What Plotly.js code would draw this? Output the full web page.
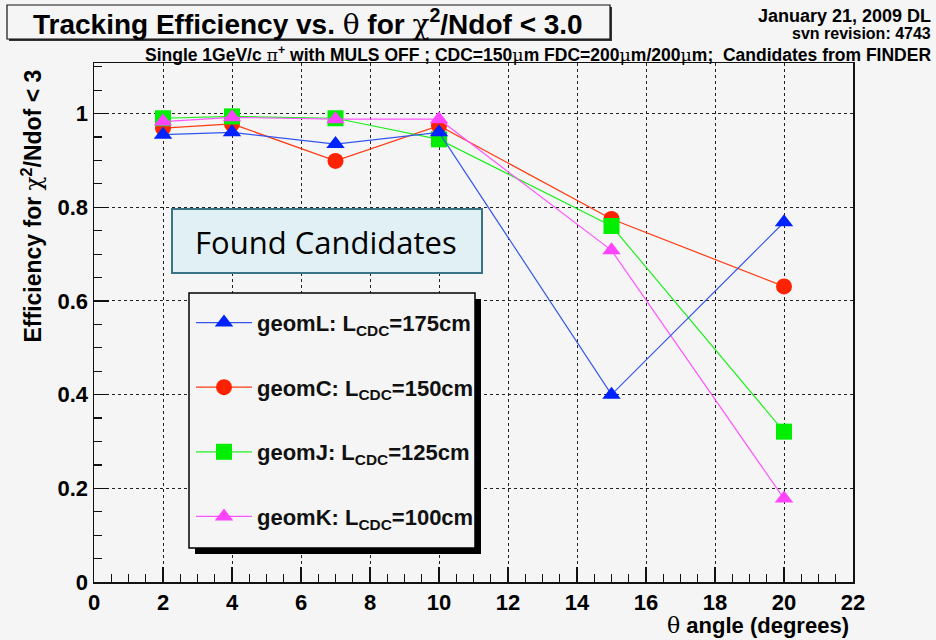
<!DOCTYPE html>
<html>
<head>
<meta charset="utf-8">
<script src="https://cdn.plot.ly/plotly-3.0.1.min.js"></script>
<style>html,body{margin:0;padding:0;background:#f5f5f5;}#chart{width:936px;height:640px;}</style>
</head>
<body>
<div id="chart"></div>
<script>
// ---- data ----
const theta = [2, 4, 7, 10, 15, 20];
const effL = [0.955, 0.960, 0.935, 0.960, 0.400, 0.768];   // geomL 175cm
const effC = [0.969, 0.978, 0.899, 0.974, 0.775, 0.631];   // geomC 150cm
const effJ = [0.990, 0.994, 0.990, 0.945, 0.760, 0.321];   // geomJ 125cm
const effK = [0.983, 0.992, 0.988, 0.988, 0.708, 0.178];   // geomK 100cm
const seriesNames = [
  "geomL: L<sub>CDC</sub>=175cm",
  "geomC: L<sub>CDC</sub>=150cm",
  "geomJ: L<sub>CDC</sub>=125cm",
  "geomK: L<sub>CDC</sub>=100cm"
];
const xTickVals = [0,2,4,6,8,10,12,14,16,18,20,22];

// ---- layout geometry helpers (pixel -> paper) ----
const W = 936, H = 640;
const M = {l: 94, r: 83, t: 63, b: 58};
const PW = W - M.l - M.r, PH = H - M.t - M.b;
const px = x => (x - M.l) / PW;
const py = y => (H - M.b - y) / PH;

const F = "Liberation Sans, Arial, sans-serif";
const SYM = "<span style=\"font-weight:normal;font-family:'DejaVu Serif'\">";

function tr(x, y, name, color, lineColor, symbol, size, rank) {
  return {
    x: x, y: y, name: name, type: 'scatter', mode: 'lines+markers',
    line: {color: lineColor, width: 1.2},
    marker: {color: color, symbol: symbol, size: size, line: {width: 0}},
    legendgroup: 'g' + rank, legendrank: rank, cliponaxis: false
  };
}

const data = [
  tr(theta, effC, seriesNames[1], '#ff2200', '#ff3a10', 'circle', 16, 2),
  tr(theta, effJ, seriesNames[2], '#00ee00', '#22ee22', 'square', 16, 3),
  tr(theta, effK, seriesNames[3], '#ff44ff', '#ff55ff', 'triangle-up', 16, 4),
  tr(theta, effL, seriesNames[0], '#0022ff', '#3355ee', 'triangle-up', 16, 1)
];

const axisCommon = {
  showline: true, linecolor: '#111', linewidth: 1.5, mirror: true,
  ticks: 'inside', ticklen: 15, tickcolor: '#111', tickwidth: 1.2,
  showgrid: true, gridcolor: '#222', gridwidth: 1, griddash: 'dot',
  zeroline: false,
  tickfont: {family: F, size: 22, color: '#000', weight: 'bold'},
  fixedrange: true
};

const layout = {
  width: W, height: H,
  margin: M,
  paper_bgcolor: '#f5f5f5', plot_bgcolor: '#f5f5f5',
  font: {family: F, color: '#000'},
  xaxis: Object.assign({}, axisCommon, {
    range: [0, 22], tickvals: xTickVals,
    minor: {dtick: 0.5, ticks: 'inside', ticklen: 8, tickcolor: '#111', showgrid: false}
  }),
  yaxis: Object.assign({}, axisCommon, {
    range: [0, 1.108], dtick: 0.2, tick0: 0,
    minor: {dtick: 0.05, ticks: 'inside', ticklen: 8, tickcolor: '#111', showgrid: false}
  }),
  legend: {
    x: px(191), y: py(294), xanchor: 'left', yanchor: 'top',
    bgcolor: 'rgba(0,0,0,0)', borderwidth: 0,
    font: {family: F, size: 22, color: '#111', weight: 'bold'},
    title: {text: ' ', font: {size: 6}},
    traceorder: 'grouped', tracegroupgap: 33, itemwidth: 56
  },
  shapes: [
    // title box shadow + box
    {type: 'rect', xref: 'paper', yref: 'paper', x0: px(9), x1: px(612), y0: py(41), y1: py(7),
     fillcolor: '#333', line: {width: 0}, layer: 'above'},
    {type: 'rect', xref: 'paper', yref: 'paper', x0: px(7), x1: px(610), y0: py(39), y1: py(5),
     fillcolor: '#f5f5f5', line: {color: '#111', width: 1.2}, layer: 'above'},
    // Found Candidates box
    {type: 'rect', xref: 'paper', yref: 'paper', x0: px(172), x1: px(482), y0: py(273), y1: py(209),
     fillcolor: '#e1f0f5', line: {color: '#3a7585', width: 2}, layer: 'above'},
    // legend shadow + legend frame
    {type: 'rect', xref: 'paper', yref: 'paper', x0: px(195), x1: px(481), y0: py(554), y1: py(299),
     fillcolor: '#000', line: {width: 0}, layer: 'above'},
    {type: 'rect', xref: 'paper', yref: 'paper', x0: px(189), x1: px(475), y0: py(548), y1: py(293),
     fillcolor: '#f5f5f5', line: {color: '#000', width: 1.5}, layer: 'above'}
  ],
  annotations: [
    {text: 'Tracking Efficiency vs. ' + SYM + 'θ</span> for ' + SYM + 'χ</span><sup>2</sup>/Ndof &lt; 3.0',
     xref: 'paper', yref: 'paper', x: px(308), y: py(23), xanchor: 'center', yanchor: 'middle',
     showarrow: false, font: {family: F, size: 28, color: '#000', weight: 'bold'}},
    {text: 'January 21, 2009 DL', xref: 'paper', yref: 'paper', x: px(933), y: py(16),
     xanchor: 'right', yanchor: 'middle', showarrow: false,
     font: {family: F, size: 18, color: '#000', weight: 'bold'}},
    {text: 'svn revision: 4743', xref: 'paper', yref: 'paper', x: px(933), y: py(34),
     xanchor: 'right', yanchor: 'middle', showarrow: false,
     font: {family: F, size: 16, color: '#000', weight: 'bold'}},
    {text: 'Single 1GeV/c ' + SYM + 'π</span><sup>+</sup> with MULS OFF ; CDC=150' + SYM + 'μ</span>m FDC=200' + SYM + 'μ</span>m/200' + SYM + 'μ</span>m;  Candidates from FINDER',
     xref: 'paper', yref: 'paper', x: px(933), y: py(54),
     xanchor: 'right', yanchor: 'middle', showarrow: false,
     font: {family: F, size: 17.5, color: '#000', weight: 'bold'}},
    {text: SYM + 'θ</span> angle (degrees)', xref: 'paper', yref: 'paper', x: px(851), y: py(626),
     xanchor: 'right', yanchor: 'middle', showarrow: false,
     font: {family: F, size: 22, color: '#000', weight: 'bold'}},
    {text: 'Efficiency for ' + SYM + 'χ</span><sup>2</sup>/Ndof &lt; 3', xref: 'paper', yref: 'paper',
     x: px(31), y: py(68), xanchor: 'center', yanchor: 'top', textangle: -90, showarrow: false,
     font: {family: F, size: 23, color: '#000', weight: 'bold'}},
    {text: 'Found Candidates', xref: 'paper', yref: 'paper', x: px(326), y: py(242),
     xanchor: 'center', yanchor: 'middle', showarrow: false,
     font: {family: 'Open Sans, sans-serif', size: 31, color: '#000'}}
  ]
};

Plotly.newPlot('chart', data, layout, {displayModeBar: false, staticPlot: true});
</script>
</body>
</html>
